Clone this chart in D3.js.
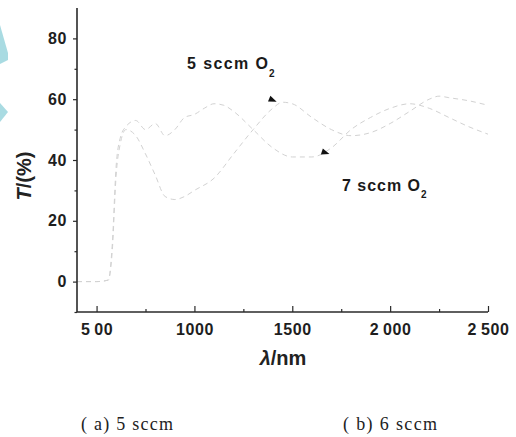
<!DOCTYPE html>
<html>
<head>
<meta charset="utf-8">
<script src="https://cdn.jsdelivr.net/npm/d3@7"></script>
<style>
  body { margin: 0; background: #fff; }
  svg { display: block; }
</style>
</head>
<body>
<div id="chart"></div>
<script>
// wavelength (nm) and transmittance (%)
var lambda5 = [400, 500, 560, 580, 600, 620, 650, 700, 750, 800, 850, 900, 950, 1000, 1100, 1200, 1300, 1400, 1450, 1500, 1600, 1700, 1800, 1900, 2000, 2100, 2200, 2250, 2300, 2400, 2500];
var trans5  = [0, 0, 0.5, 10, 35, 45, 50, 48, 42, 35, 28, 27, 28, 30, 34, 42, 50, 57, 59, 58.5, 54, 50, 48, 49, 52, 56, 60, 61, 60.5, 59.5, 58];

var lambda7 = [400, 500, 560, 580, 600, 620, 650, 700, 750, 800, 850, 900, 950, 1000, 1050, 1100, 1150, 1200, 1300, 1400, 1500, 1600, 1700, 1800, 1900, 2000, 2100, 2200, 2300, 2400, 2500];
var trans7  = [0, 0, 0.5, 12, 38, 47, 51, 53, 50, 52, 48, 50, 54, 55, 57, 58.5, 58, 56, 50, 44, 41, 41, 44, 50, 54, 57, 58.5, 57, 54, 51, 48.5];

var xTicks = [500, 1000, 1500, 2000, 2500];
var xTickLabels = ["5\u200900", "1000", "1500", "2\u2009000", "2\u2009500"];
var xMinor = [750, 1250, 1750, 2250];
var yTicks = [0, 20, 40, 60, 80];
var yMinor = [-10, 10, 30, 50, 70];

var W = 516, H = 437;
var svg = d3.select("#chart").append("svg").attr("width", W).attr("height", H);

// cyan bits on the left edge of the scan
svg.append("polygon").attr("points", "0,25 8,53 8,60 0,64").attr("fill", "#a9dbe2");
svg.append("polygon").attr("points", "0,103 8,112 0,122").attr("fill", "#a9dbe2");

var x = d3.scaleLinear().domain([400, 2500]).range([77, 488]);
var y = d3.scaleLinear().domain([-10, 90]).range([312, 8]);

var line = d3.line()
  .x(function(d){ return x(d[0]); })
  .y(function(d){ return y(d[1]); })
  .curve(d3.curveMonotoneX);

var g = svg.append("g");
g.append("path").datum(d3.zip(lambda5, trans5))
  .attr("d", line).attr("fill", "none")
  .attr("stroke", "#d2d2d2").attr("stroke-width", 1)
  .attr("stroke-dasharray", "5 4");
g.append("path").datum(d3.zip(lambda7, trans7))
  .attr("d", line).attr("fill", "none")
  .attr("stroke", "#d2d2d2").attr("stroke-width", 1)
  .attr("stroke-dasharray", "5 4");

// axes
var axisCol = "#2a2a2a";
var xAxis = svg.append("g").attr("transform", "translate(0," + y(-10) + ")")
  .call(d3.axisBottom(x).tickValues(xTicks).tickSize(-6).tickPadding(12)
    .tickFormat(function(d, i){ return xTickLabels[i]; }));
svg.append("g").attr("transform", "translate(0," + y(-10) + ")")
  .call(d3.axisBottom(x).tickValues(xMinor).tickSize(-3).tickFormat(""))
  .select(".domain").remove();

var yAxis = svg.append("g").attr("transform", "translate(" + x(400) + ",0)")
  .call(d3.axisLeft(y).tickValues(yTicks).tickSize(4).tickPadding(6));
svg.append("g").attr("transform", "translate(" + x(400) + ",0)")
  .call(d3.axisLeft(y).tickValues(yMinor).tickSize(2.5).tickFormat(""))
  .select(".domain").remove();

svg.selectAll(".domain").attr("stroke", axisCol).attr("stroke-width", 1.6);
xAxis.select(".domain").attr("d", "M" + x(400) + ",0H" + x(2500));
yAxis.select(".domain").attr("d", "M0," + y(-10) + "V" + y(90));
svg.selectAll(".tick line").attr("stroke", axisCol).attr("stroke-width", 1.2);
svg.selectAll(".tick text")
  .attr("font-family", "Liberation Sans, Arial, sans-serif")
  .attr("font-weight", "bold").attr("font-size", 16)
  .attr("letter-spacing", "0.6px").attr("fill", "#1e1e1e");

// axis titles
svg.append("text")
  .attr("transform", "translate(31,176) rotate(-90)")
  .attr("text-anchor", "middle")
  .attr("font-family", "Liberation Sans, Arial, sans-serif")
  .attr("font-weight", "bold").attr("font-size", 20).attr("fill", "#222")
  .html('<tspan font-style="italic">T</tspan>/(%)');
svg.append("text")
  .attr("x", 283).attr("y", 365)
  .attr("text-anchor", "middle")
  .attr("font-family", "Liberation Sans, Arial, sans-serif")
  .attr("font-weight", "bold").attr("font-size", 20).attr("fill", "#222")
  .html('<tspan font-style="italic">λ</tspan>/nm');

// annotations
function label(tx, ty, w, subx, suby, str) {
  svg.append("text").attr("x", tx).attr("y", ty)
    .attr("font-family", "Liberation Sans, Arial, sans-serif")
    .attr("font-weight", "bold").attr("font-size", 16).attr("fill", "#1a1a1a")
    .attr("textLength", w).attr("lengthAdjust", "spacing")
    .text(str);
  svg.append("text").attr("x", subx).attr("y", suby)
    .attr("font-family", "Liberation Sans, Arial, sans-serif")
    .attr("font-weight", "bold").attr("font-size", 10).attr("fill", "#1a1a1a")
    .text("2");
}
label(187, 69, 81, 269, 77, "5 sccm O");
label(342, 191, 78, 421, 198, "7 sccm O");

function arrowHead(l, t, ang) {
  svg.append("path")
    .attr("d", "M0,0 L-8,-3.2 L-8,3.2 Z")
    .attr("fill", "#111")
    .attr("transform", "translate(" + x(l) + "," + y(t) + ") rotate(" + ang + ")");
}
arrowHead(1420, 59.2, 22);
arrowHead(1690, 42, 18);

// captions
svg.append("text").attr("x", 81).attr("y", 430)
  .attr("font-family", "Liberation Serif, Times New Roman, serif")
  .attr("font-size", 18).attr("fill", "#222")
  .attr("textLength", 92).attr("lengthAdjust", "spacing")
  .text("( a) 5  sccm");
svg.append("text").attr("x", 343).attr("y", 430)
  .attr("font-family", "Liberation Serif, Times New Roman, serif")
  .attr("font-size", 18).attr("fill", "#222")
  .attr("textLength", 94).attr("lengthAdjust", "spacing")
  .text("( b) 6  sccm");
</script>
</body>
</html>
